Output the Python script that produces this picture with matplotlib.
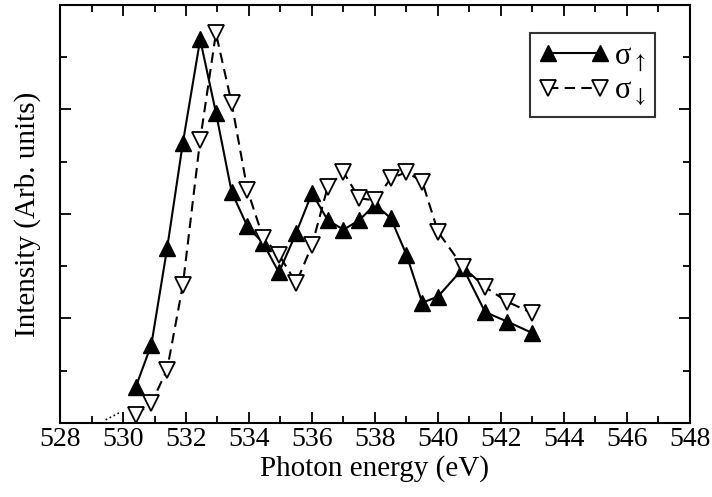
import matplotlib
matplotlib.use("Agg")
import matplotlib.pyplot as plt
from matplotlib.ticker import MultipleLocator, NullFormatter

# ==========================
# Data
# ==========================

energy = [530.4, 530.9, 531.4, 531.9, 532.45, 532.95, 533.45, 533.95,
          534.45, 534.95, 535.5, 536.0, 536.5, 537.0, 537.5, 538.0,
          538.5, 539.0, 539.5, 540.0, 540.8, 541.5, 542.2, 543.0]

sigma_up = [0.34, 0.75, 1.67, 2.68, 3.67, 2.97, 2.21, 1.88,
            1.72, 1.44, 1.82, 2.20, 1.94, 1.85, 1.94, 2.09,
            1.96, 1.61, 1.15, 1.21, 1.48, 1.06, 0.97, 0.86]

sigma_down = [0.08, 0.19, 0.51, 1.32, 2.71, 3.73, 3.06, 2.23,
              1.77, 1.61, 1.34, 1.70, 2.26, 2.40, 2.15, 2.13,
              2.34, 2.40, 2.31, 1.83, 1.49, 1.30, 1.16, 1.05]

# short dotted stub left of the first point
tail_x = [529.45, 529.9]
tail_y = [0.03, 0.1]

x_ticks = [528, 530, 532, 534, 536, 538, 540, 542, 544, 546, 548]

# ==========================
# Style
# ==========================

plt.rcParams["font.family"] = ["Liberation Serif", "DejaVu Serif"]
plt.rcParams["mathtext.fontset"] = "stix"

fig = plt.figure(figsize=(7.12, 4.97), dpi=100)
ax = fig.add_axes([0.0843, 0.149, 0.8847, 0.841])

# ==========================
# Plot
# ==========================

ax.plot(energy, sigma_up, color="black", linestyle="-", linewidth=1.5,
        marker="^", markersize=11, markerfacecolor="black",
        markeredgecolor="black", label="σ$_{\\uparrow}$")

ax.plot(energy, sigma_down, color="black", linestyle=(0, (5, 3)), linewidth=1.5,
        marker="v", markersize=11, markerfacecolor="white",
        markeredgecolor="black", markeredgewidth=1.3,
        label="σ$_{\\downarrow}$")

ax.plot(tail_x, tail_y, color="black", linestyle=":", linewidth=1.2)

# ==========================
# Axes
# ==========================

ax.set_xlim(528, 548)
ax.set_ylim(0, 4)

ax.set_xticks(x_ticks)
ax.xaxis.set_minor_locator(MultipleLocator(1))
ax.yaxis.set_major_locator(MultipleLocator(1))
ax.yaxis.set_minor_locator(MultipleLocator(0.5))
ax.yaxis.set_major_formatter(NullFormatter())

ax.tick_params(which="both", direction="in", top=True, right=True,
               width=1.3, labelsize=20, pad=3)
ax.tick_params(which="major", length=8)
ax.tick_params(which="minor", length=5)

for spine in ax.spines.values():
    spine.set_linewidth(1.5)

ax.set_xlabel("Photon energy (eV)", fontsize=21, labelpad=2)
ax.set_ylabel("Intensity (Arb. units)", fontsize=21, labelpad=11)

leg = ax.legend(loc="upper right", bbox_to_anchor=(0.944, 0.933),
                numpoints=2, fontsize=22, frameon=True, fancybox=False,
                edgecolor="black", handlelength=2.3, handletextpad=0.15,
                borderpad=0.3, labelspacing=0.1, borderaxespad=0.0)
leg.get_frame().set_linewidth(1.5)

fig.savefig("out.png", dpi=100)
